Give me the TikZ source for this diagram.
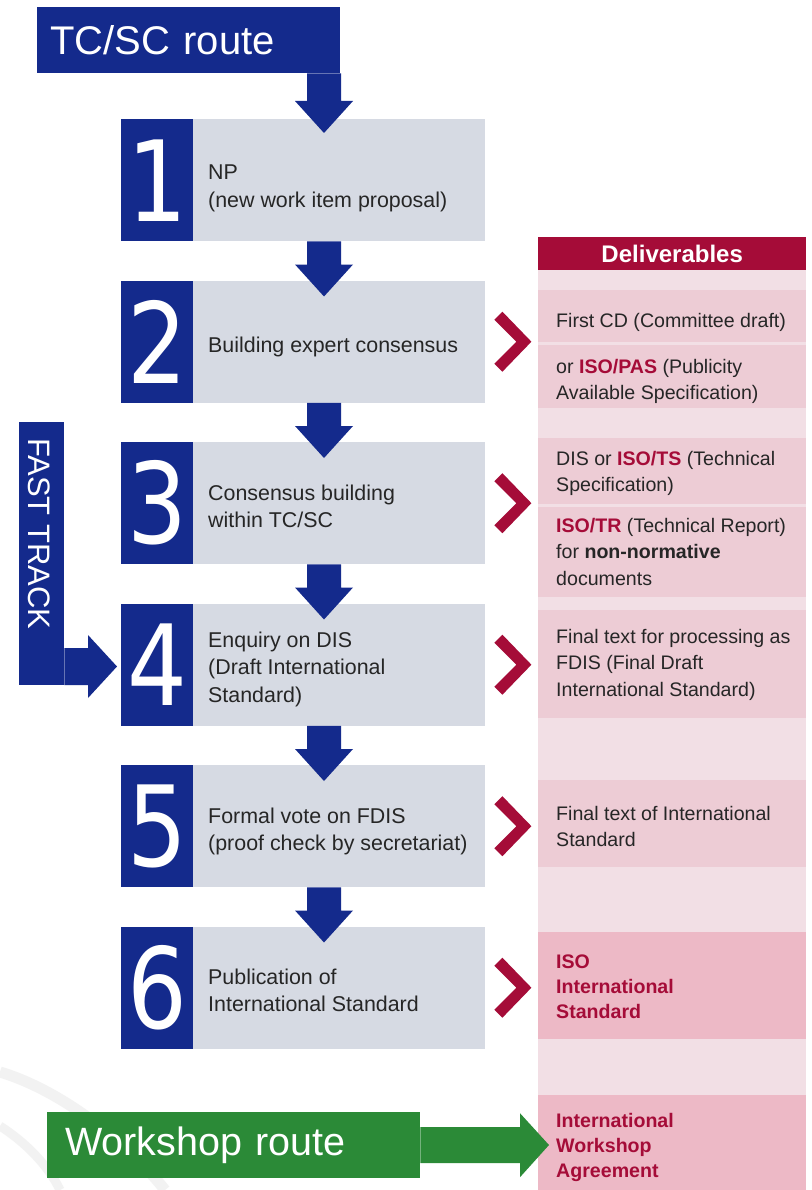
\documentclass[tikz,border=0pt]{standalone}
\usepackage{fontspec}
\setmainfont{Liberation Sans}
\newfontfamily\digfont[FakeStretch=0.84]{DejaVu Sans}
\usetikzlibrary{calc}
\definecolor{isoblue}{HTML}{142A8C}
\definecolor{boxgrey}{HTML}{D6DAE3}
\definecolor{crim}{HTML}{A50C38}
\definecolor{pinklight}{HTML}{F2DFE5}
\definecolor{pinkmid}{HTML}{EDCCD5}
\definecolor{pinkdark}{HTML}{EDB9C6}
\definecolor{isogreen}{HTML}{2B8A37}
\definecolor{txt}{HTML}{262626}
\definecolor{wmark}{HTML}{F2F2F2}
\newcommand\isored[1]{\textcolor{crim}{\bfseries #1}}
\newcommand\mlines[1]{\parbox[t]{290pt}{\raggedright #1}}
\newcommand\vflow[2]{%
  \fill[isoblue] let \p1=#1, \p2=#2 in
    (\x1-17pt,\y1) -- (\x1+17pt,\y1) -- (\x1+17pt,\y2+32pt) -- (\x1+29pt,\y2+32pt)
    -- (\x2,\y2) -- (\x1-29pt,\y2+32pt) -- (\x1-17pt,\y2+32pt) -- cycle;}
\begin{document}
\begin{tikzpicture}[x=1pt,y=1pt,
  numbox/.style={fill=isoblue, text=white, minimum width=72pt, minimum height=122pt,
    inner sep=0pt, anchor=north west, font=\digfont\fontsize{112pt}{112pt}\selectfont},
  greybox/.style={fill=boxgrey, minimum width=292pt, minimum height=122pt,
    inner sep=0pt, anchor=north west},
  steptext/.style={anchor=base west, inner sep=0pt, text=txt,
    font=\fontsize{21.4pt}{27.5pt}\selectfont},
  deltext/.style={anchor=base west, inner sep=0pt, text=txt,
    font=\fontsize{19.6pt}{26.5pt}\selectfont},
  redtext/.style={anchor=base west, inner sep=0pt, text=crim,
    font=\bfseries\fontsize{19.6pt}{25pt}\selectfont},
  rowbox/.style={anchor=north west, minimum width=268pt, inner sep=0pt},
  chev/.pic={\fill[crim] (9,22) -- (17,30) -- (46,0) -- (17,-30) -- (9,-22) -- (31,0) -- cycle;}
]
\useasboundingbox (0,0) rectangle (811,-1190);
\fill[white] (0,0) rectangle (811,-1190);
% faint watermark arcs
\draw[wmark, line width=11pt] (0,-1072) .. controls (60,-1090) and (125,-1140) .. (165,-1190);
\draw[wmark, line width=9pt] (0,-1126) .. controls (25,-1142) and (48,-1165) .. (60,-1190);

% deliverables column
\node[rowbox, fill=pinklight, minimum height=920pt] (col) at (538,-270) {};
\node[rowbox, fill=crim, minimum height=33pt, text=white,
  font=\bfseries\fontsize{24pt}{28pt}\selectfont] (hdr) at (538,-237) {Deliverables};
\node[rowbox, fill=pinkmid, minimum height=52pt] (rA) at (538,-290) {};
\node[rowbox, fill=pinkmid, minimum height=63pt] (rB) at (538,-345) {};
\node[rowbox, fill=pinkmid, minimum height=66pt] (rC) at (538,-438) {};
\node[rowbox, fill=pinkmid, minimum height=90pt] (rD) at (538,-507) {};
\node[rowbox, fill=pinkmid, minimum height=108pt] (rE) at (538,-610) {};
\node[rowbox, fill=pinkmid, minimum height=87pt] (rF) at (538,-780) {};
\node[rowbox, fill=pinkdark, minimum height=107pt] (rG) at (538,-932) {};
\node[rowbox, fill=pinkdark, minimum height=95pt] (rH) at (538,-1095) {};

\node[deltext] (dA) at (556,-327) {\mlines{First CD (Committee draft)}};
\node[deltext] (dB) at (556,-373) {\mlines{or \isored{ISO/PAS} (Publicity\\Available Specification)}};
\node[deltext] (dC) at (556,-465) {\mlines{DIS or \isored{ISO/TS} (Technical\\Specification)}};
\node[deltext] (dD) at (556,-532) {\mlines{\isored{ISO/TR} (Technical Report)\\for \textbf{non-normative}\\documents}};
\node[deltext] (dE) at (556,-643) {\mlines{Final text for processing as\\FDIS (Final Draft\\International Standard)}};
\node[deltext] (dF) at (556,-820) {\mlines{Final text of International\\Standard}};
\node[redtext] (dG) at (556,-968) {\mlines{ISO\\International\\Standard}};
\node[redtext] (dH) at (556,-1127) {\mlines{International\\Workshop\\Agreement}};

% step boxes
\foreach \i/\t in {1/119,2/280.5,3/442,4/603.5,5/765,6/926.5} {
  \node[greybox] (g\i) at (193,-\t) {};
  \node[numbox] (n\i) at (121,-\t) {\i};
}
\node[steptext] (t1) at (208,-180) {\mlines{NP\\(new work item proposal)}};
\node[steptext] (t2) at (208,-352) {\mlines{Building expert consensus}};
\node[steptext] (t3) at (208,-500) {\mlines{Consensus building\\within TC/SC}};
\node[steptext] (t4) at (208,-647) {\mlines{Enquiry on DIS\\(Draft International\\Standard)}};
\node[steptext] (t5) at (208,-823) {\mlines{Formal vote on FDIS\\(proof check by secretariat)}};
\node[steptext] (t6) at (208,-984) {\mlines{Publication of\\International Standard}};

% TC/SC route banner
\node[fill=isoblue, anchor=north west, minimum width=303pt, minimum height=66pt,
  inner ysep=0pt, inner xsep=13pt, text width=277pt, align=left, text=white,
  font=\fontsize{40pt}{40pt}\selectfont] (tc) at (37,-7) {TC/SC route};

% down arrows
\coordinate (ax) at (324,0);
\vflow{(tc.south -| ax)}{($(g1.north -| ax)+(0,-14)$)}
\foreach \i/\j in {1/2,2/3,3/4,4/5,5/6} {
  \vflow{(g\i.south -| ax)}{($(g\j.north -| ax)+(0,-16)$)}
}

% chevrons
\foreach \i in {2,...,6} { \pic at (g\i.east) {chev}; }

% fast track
\node[fill=isoblue, anchor=north west, minimum width=45pt, minimum height=263pt,
  inner sep=0pt] (ft) at (19,-422) {};
\node[rotate=-90, anchor=base west, inner sep=0pt, text=white,
  font=\fontsize{31pt}{31pt}\selectfont] (ftt) at (28,-438) {FAST TRACK};
\coordinate (ftc) at (117,-666.5);
\fill[isoblue] let \p1=(ft.east |- ftc), \p2=(ftc) in
  (\x1,\y1+18.5pt) -- (\x2-29pt,\y1+18.5pt) -- (\x2-29pt,\y1+31.5pt) -- (\x2,\y2)
  -- (\x2-29pt,\y1-31.5pt) -- (\x2-29pt,\y1-18.5pt) -- (\x1,\y1-18.5pt) -- cycle;

% workshop route
\node[fill=isogreen, anchor=north west, minimum width=373pt, minimum height=66pt,
  inner ysep=0pt, inner xsep=18pt, text width=337pt, align=left, text=white,
  font=\fontsize{39.5pt}{40pt}\selectfont] (wr) at (47,-1112) {Workshop route};
\coordinate (wtip) at (549,-1145);
\fill[isogreen] let \p1=(wr.east), \p2=(wtip) in
  (\x1,\y1+18pt) -- (\x2-29pt,\y1+18pt) -- (\x2-29pt,\y1+32pt) -- (\x2,\y2)
  -- (\x2-29pt,\y1-32pt) -- (\x2-29pt,\y1-18pt) -- (\x1,\y1-18pt) -- cycle;
\end{tikzpicture}
\end{document}
